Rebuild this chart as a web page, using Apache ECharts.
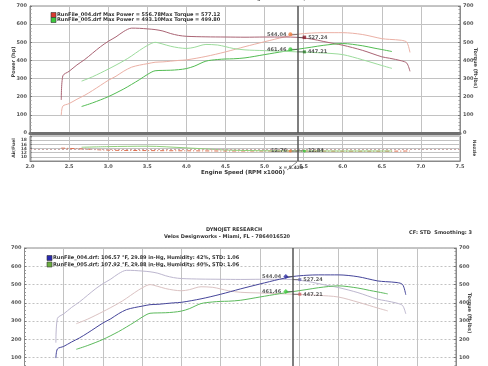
<!DOCTYPE html>
<html><head><meta charset="utf-8">
<script src="https://cdn.jsdelivr.net/npm/echarts/dist/echarts.min.js"></script>
<style>html,body{margin:0;padding:0;background:#fff}#c{width:488px;height:366px}</style>
</head><body><div id="c"></div>
<script>
// ---------- data ----------
const rpm004    = [2.40,2.42,2.50,2.60,2.70,2.80,2.90,3.00,3.10,3.20,3.30,3.40,3.50,3.60,3.70,3.80,3.90,4.00,4.25,4.50,4.75,5.00,5.25,5.42,5.60,5.75,5.90,6.00,6.25,6.50,6.60,6.75,6.82,6.86];
const torque004 = [182,315,340,375,405,440,475,505,530,560,578,577,574,570,562,548,538,533,530,529,528,529,529,527.24,518,505,492,484,456,420,412,398,385,340];
const power004  = [98,148,162,186,208,234,262,290,313,341,363,374,382,390,392,396,400,403,422,447,476,503,529,544.04,551,553,553,553,543,520,516,511,500,444];
const rpm005    = [2.66,2.80,3.00,3.20,3.30,3.40,3.50,3.60,3.70,3.80,3.90,4.00,4.10,4.25,4.40,4.50,4.60,4.75,5.00,5.25,5.42,5.60,5.75,6.00,6.25,6.40,6.50,6.63];
const torque005 = [286,310,352,398,425,455,482,499.8,490,478,470,466,472,488,485,476,466,458,454,450,447.21,444,441,432,404,385,372,356];
const power005  = [146,166,200,243,268,294,322,343,345,346,349,355,368,396,405,408,409,414,432,450,461.46,473,483,493,481,468,460,449];
const afrRpm004 = [2.40,2.60,3.00,3.50,4.00,4.50,5.00,5.42,6.00,6.50,6.86];
const afr004    = [14.2,13.9,13.2,13.0,12.9,12.8,12.8,12.76,12.7,12.7,12.8];
const afrRpm005 = [2.66,3.00,3.50,4.00,4.50,5.00,5.42,6.00,6.63];
const afr005    = [14.6,14.9,15.1,14.3,13.3,12.9,12.84,12.8,12.8];
const afrTarget = 13.6;
const cursorRpm = 5.42;
const cursorPower  = [544.04, 461.46];
const cursorTorque = [527.24, 447.21];
const cursorAfr    = [12.76, 12.84];
const legendTop = [
  'RunFile_004.drf Max Power = 556.78Max Torque = 577.12',
  'RunFile_005.drf Max Power = 493.10Max Torque = 499.80'];
const legendBottom = [
  'RunFile_004.drf: 106.57 \u00B0F, 29.89 in-Hg, Humidity: 42%, STD: 1.06',
  'RunFile_005.drf: 107.92 \u00B0F, 29.88 in-Hg, Humidity: 40%, STD: 1.06'];
const titleLines = ['DYNOJET RESEARCH', 'Velos Designworks - Miami, FL - 7864016520', 'CF: STD  Smoothing: 3'];
const xLabelText = 'Engine Speed (RPM x1000)';
const cursorText = 'x = 5.420';

// ---------- chart ----------
const F = 'DejaVu Sans';
const zip = (xs, ys) => xs.map((x, i) => [x, ys[i]]);
const tick = {fontSize: 5, fontWeight: 'bold', color: '#555', fontFamily: F};
const grid = (l, t, w, h) => ({left: l, top: t, width: w, height: h, show: true,
  borderColor: '#8a8a8a', borderWidth: 1, outerBoundsMode: 'none', containLabel: false});

function xAx(gi, labels, line) {
  return {type: 'value', gridIndex: gi, min: 2, max: 7.5, interval: 0.5,
    axisLabel: {show: labels, ...tick, margin: 3, formatter: v => v.toFixed(1)},
    axisTick: {show: false},
    axisLine: {show: true, onZero: false, lineStyle: line || {color: '#8a8a8a', width: 1}},
    splitLine: {show: true, lineStyle: {color: '#c2c2c2', width: 1}}};
}
function yAx(gi, pos, min, max, iv, labels, split, dashed) {
  return {type: 'value', gridIndex: gi, position: pos, min: min, max: max, interval: iv,
    axisLabel: {show: labels, ...tick, margin: 3},
    axisLine: {show: true, lineStyle: {color: '#8a8a8a'}},
    axisTick: {show: labels, length: 2, inside: true, lineStyle: {color: '#777'}},
    minorTick: {show: labels, splitNumber: 5, length: 1.5, lineStyle: {color: '#999'}},
    splitLine: {show: split, lineStyle: {color: '#c2c2c2', width: 1, type: dashed ? [2, 2] : 'solid'}}};
}
function line(xi, yi, xs, ys, color, w, type) {
  return {type: 'line', xAxisIndex: xi, yAxisIndex: yi, data: zip(xs, ys), smooth: 0.3,
    showSymbol: false, silent: true, lineStyle: {color: color, width: w || 1, type: type || 'solid'}, z: 3};
}
function cursorLine(xi, yi) {
  return {type: 'line', xAxisIndex: xi, yAxisIndex: yi, data: [], silent: true,
    markLine: {symbol: 'none', silent: true, label: {show: false}, animation: false,
      lineStyle: {color: '#555', width: 1.5, type: 'solid'}, data: [{xAxis: cursorRpm}]}, z: 4};
}
const lbl = (pos) => ({show: true, position: pos, distance: 2, fontSize: 5, fontWeight: 'bold',
  color: '#333', fontFamily: F, formatter: p => p.value[1].toFixed(2)});
function markers(xi, yi, vals, specs) {
  const data = [];
  vals.forEach((v, i) => {
    const s = specs[i];
    data.push({value: [cursorRpm, v], symbol: 'rect', symbolSize: [7, 0.8],
      symbolOffset: [s.side === 'left' ? -3.5 : 3.5, 0], itemStyle: {color: '#444'}, label: {show: false}});
    data.push({value: [cursorRpm, v], symbol: s.symbol || 'circle', symbolSize: s.size || 4,
      symbolOffset: [s.side === 'left' ? -7 : 7, 0], itemStyle: {color: s.color}, label: lbl(s.side)});
  });
  return {type: 'scatter', xAxisIndex: xi, yAxisIndex: yi, data: data, silent: true, z: 6};
}

const C = {
  t004: '#aa6474', p004: '#ebb0a5', t005: '#9cdc9c', p005: '#52bc52',
  bp004: '#45459a', bt004: '#bdb7cf', bp005: '#5cba5c', bt005: '#dbc2c2'
};

const txt = (x, y, s, o) => ({type: 'text', x: x, y: y, rotation: (o && o.rot) || 0, z: 10, silent: true,
  style: {text: s, fontSize: (o && o.fs) || 5, fontWeight: 'bold', fontFamily: F, fill: (o && o.fill) || '#333',
    textAlign: (o && o.align) || 'left', textVerticalAlign: 'middle'}});
const box = (x, y, w, h, fill, stroke) => ({type: 'rect', z: 10, silent: true, shape: {x: x, y: y, width: w, height: h},
  style: {fill: fill, stroke: stroke || '#333', lineWidth: 0.6}});

const option = {
  animation: false,
  backgroundColor: '#ffffff',
  grid: [grid(30, 6, 430, 127), grid(30, 136, 430, 25), grid(24.5, 248, 431.5, 128)],
  xAxis: [xAx(0, false, {color: '#707070', width: 3}), xAx(1, true), xAx(2, false)],
  yAxis: [
    yAx(0, 'left', 0, 700, 100, true, true),
    yAx(0, 'right', 0, 700, 100, true, false),
    Object.assign(yAx(1, 'left', 8, 20, 2, true, true), {axisLabel: {...tick, fontSize: 4.5, margin: 3, showMinLabel: false}}),
    yAx(1, 'right', 8, 20, 2, false, false),
    yAx(2, 'left', 0, 700, 100, true, true, true),
    yAx(2, 'right', 0, 700, 100, true, false)
  ],
  series: [
    line(0, 0, rpm004, power004, C.p004),
    line(0, 1, rpm004, torque004, C.t004),
    line(0, 0, rpm005, power005, C.p005),
    line(0, 1, rpm005, torque005, C.t005),
    cursorLine(0, 0),
    markers(0, 0, [cursorPower[0], cursorTorque[0], cursorPower[1], cursorTorque[1]], [
      {side: 'left', color: '#f07a3c'}, {side: 'right', color: '#8a1c2a', symbol: 'rect', size: 3.5},
      {side: 'left', color: '#3ccc3c'}, {side: 'right', color: '#2a7a2a', symbol: 'rect', size: 3}]),
    Object.assign(line(1, 2, afrRpm004, afr004, '#e07050', 1, [4, 2, 1, 2]), {
      markLine: {symbol: 'none', silent: true, label: {show: false}, animation: false,
        lineStyle: {color: '#c9a8a8', width: 1, type: [2, 2]}, data: [{yAxis: afrTarget}]}}),
    line(1, 2, afrRpm005, afr005, '#8fd07a'),
    cursorLine(1, 2),
    markers(1, 2, cursorAfr, [{side: 'left', color: '#f07a3c', size: 3}, {side: 'right', color: '#3ccc3c', size: 3}]),
    line(2, 4, rpm004, torque004, C.bt004),
    line(2, 4, rpm005, torque005, C.bt005),
    line(2, 4, rpm004, power004, C.bp004),
    line(2, 4, rpm005, power005, C.bp005),
    cursorLine(2, 4),
    markers(2, 4, [cursorPower[0], cursorTorque[0], cursorPower[1], cursorTorque[1]], [
      {side: 'left', color: '#2a2aa0', symbol: 'diamond', size: 5}, {side: 'right', color: '#6a6ab5', symbol: 'rect', size: 3},
      {side: 'left', color: '#3ccc3c', symbol: 'diamond', size: 5}, {side: 'right', color: '#d06060', symbol: 'rect', size: 3}])
  ],
  graphic: [
    box(51, 12.5, 5, 5, '#d83a30'), txt(57, 15, legendTop[0]),
    box(51, 17.5, 5, 5, '#3cc83c'), txt(57, 20, legendTop[1]),
    txt(14, 62, 'Power (hp)', {rot: Math.PI / 2, align: 'center', fill: '#444'}),
    txt(475, 68, 'Torque (ft-lbs)', {rot: -Math.PI / 2, align: 'center', fill: '#444'}),
    txt(14, 148, 'Air/Fuel', {rot: Math.PI / 2, align: 'center', fill: '#444', fs: 4.5}),
    txt(474, 148, 'Nozzle', {rot: -Math.PI / 2, align: 'center', fill: '#444', fs: 4.5}),
    txt(243, 173, xLabelText, {align: 'center', fill: '#333', fs: 5.5}),
    txt(279, 168, cursorText, {fs: 4.5, fill: '#444'}),
    {type: 'line', z: 10, silent: true, shape: {x1: 297, y1: 162, x2: 287, y2: 170}, style: {stroke: '#555', lineWidth: 0.7}},
    txt(354, -1, titleLines[1], {align: 'right', fill: '#555'}),
    txt(234, 230, titleLines[0], {align: 'center', fill: '#333'}),
    txt(227, 237, titleLines[1], {align: 'center', fill: '#333'}),
    txt(472, 233, titleLines[2], {align: 'right', fill: '#333'}),
    box(47, 255.5, 5, 5, '#2a2ab0'), txt(53, 258, legendBottom[0]),
    box(47, 262, 5, 5, '#6cb040'), txt(53, 264.5, legendBottom[1]),
    txt(469, 313, 'Torque (ft-lbs)', {rot: -Math.PI / 2, align: 'center', fill: '#444'})
  ]
};
const chart = echarts.init(document.getElementById('c'), null, {renderer: 'canvas'});
chart.setOption(option);
</script>
</body></html>
